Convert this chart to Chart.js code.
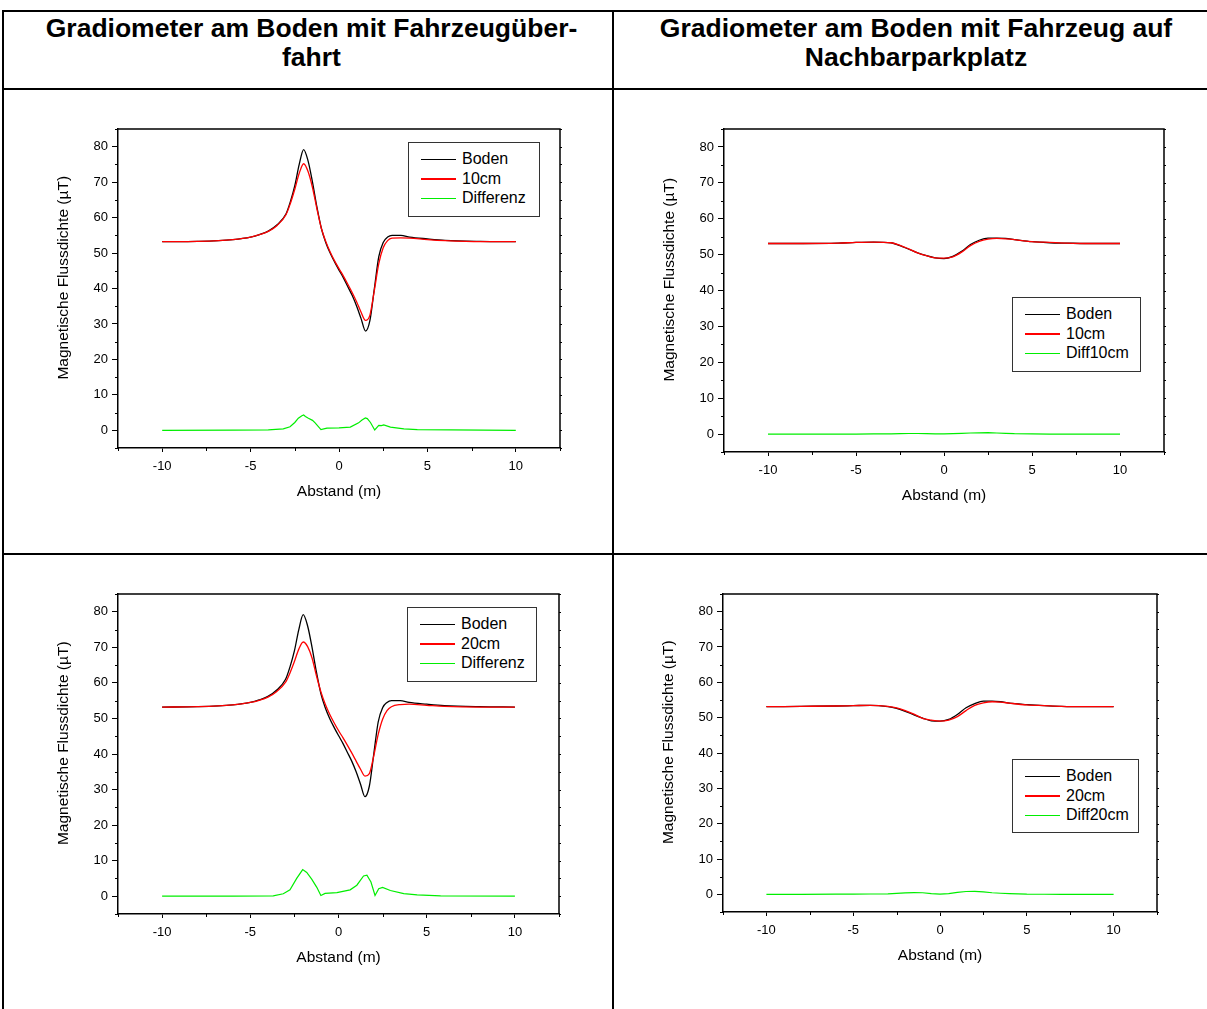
<!DOCTYPE html>
<html lang="de">
<head>
  <meta charset="UTF-8">
  <title>Gradiometer am Boden</title>
  <style>
    body {
      margin: 0;
      background: #fff;
      font-family: "Liberation Sans", Arial, sans-serif;
      color: #000;
    }
    .page {
      position: relative;
      width: 1207px;
      height: 1009px;
      overflow: hidden;
    }
    .rule {
      position: absolute;
      background: #000;
    }
    .head {
      position: absolute;
      top: 14px;
      text-align: center;
      font-weight: bold;
      font-size: 26.5px;
      line-height: 29px;
    }
    canvas {
      position: absolute;
    }
    .legend {
      position: absolute;
      box-sizing: border-box;
      border: 1.5px solid #333;
      padding-top: 6.5px;
      font-size: 16px;
      background: #fff;
    }
    .legend .row {
      height: 19.5px;
      display: flex;
      align-items: center;
    }
    .legend .sw {
      display: block;
      margin-left: 12px;
      margin-right: 6px;
      width: 35px;
      height: 1.5px;
    }
  </style>
</head>
<body>
  <div class="page">
    <div class="rule" style="left:2px; top:10px; width:1210px; height:2px;"></div>
    <div class="rule" style="left:2px; top:10px; width:2px; height:1000px;"></div>
    <div class="rule" style="left:612px; top:10px; width:2px; height:1000px;"></div>
    <div class="rule" style="left:2px; top:88px; width:1210px; height:2px;"></div>
    <div class="rule" style="left:2px; top:553px; width:1210px; height:2px;"></div>

    <div class="head" style="left:8px; width:607px;">Gradiometer am Boden mit Fahrzeugüber-<br>fahrt</div>
    <div class="head" style="left:614px; width:604px;">Gradiometer am Boden mit Fahrzeug auf<br>Nachbarparkplatz</div>

    <canvas id="c1" width="522" height="391" style="left:50px; top:117px;"></canvas>
    <canvas id="c2" width="520" height="395" style="left:656px; top:117px;"></canvas>
    <canvas id="c3" width="521" height="392" style="left:50px; top:582px;"></canvas>
    <canvas id="c4" width="514" height="390" style="left:655px; top:582px;"></canvas>
  </div>

  <script src="https://cdn.jsdelivr.net/npm/chart.js"></script>
  <script>
    // Überfahrt (left column)
    const xUeber = [-10, -8, -6, -5, -4.5, -4, -3.5, -3, -2.75, -2.5, -2.25, -2, -1.75, -1.5, -1.25, -1, -0.75, -0.5, -0.25, 0,
                    0.25, 0.5, 0.75, 1, 1.25, 1.5, 1.75, 2, 2.25, 2.5, 2.75, 3, 3.5, 4, 5, 6, 8, 10];
    const bodenUeber = [53.2, 53.3, 53.8, 54.5, 55.2, 56.2, 58.0, 61.0, 64.5, 69.0, 75.0, 79.2, 76.0, 70.0, 63.0, 57.0, 53.0, 50.0, 47.5, 45.2,
                        43.0, 40.5, 38.0, 35.0, 31.5, 28.0, 31.0, 40.0, 49.0, 53.0, 54.5, 55.0, 55.0, 54.5, 54.0, 53.6, 53.3, 53.2];
    const cm10Ueber = [53.2, 53.3, 53.8, 54.5, 55.2, 56.1, 57.8, 60.8, 64.0, 68.0, 72.5, 75.2, 73.0, 68.5, 62.5, 57.0, 53.3, 50.3, 47.8, 45.6,
                       43.5, 41.2, 38.8, 36.2, 33.3, 31.0, 32.5, 39.5, 47.0, 51.5, 53.5, 54.2, 54.3, 54.2, 53.8, 53.5, 53.2, 53.2];
    const cm20Ueber = [53.2, 53.3, 53.8, 54.5, 55.1, 56.0, 57.6, 60.2, 62.8, 66.0, 69.5, 71.5, 70.2, 67.0, 62.0, 57.5, 54.0, 51.2, 48.8, 46.6,
                       44.6, 42.5, 40.3, 38.0, 35.7, 33.8, 34.5, 39.5, 45.5, 49.8, 52.2, 53.3, 53.9, 54.0, 53.7, 53.4, 53.2, 53.2];
    const xDiff10 = [-10, -6, -4, -3.15, -2.77, -2.5, -2.3, -2.1, -2.0, -1.9, -1.73, -1.5, -1.35, -1.02, -0.68, 0, 0.64, 1.11, 1.3, 1.49,
                     1.6, 1.78, 2.02, 2.25, 2.4, 2.53, 2.91, 3.67, 4.43, 6.32, 10];
    const diff10Ueber = [0, 0.02, 0.1, 0.4, 1.0, 2.2, 3.4, 4.1, 4.3, 3.9, 3.4, 2.8, 2.1, 0.2, 0.6, 0.7, 0.9, 2.1, 2.9, 3.5,
                         3.3, 2.2, 0.1, 1.4, 1.3, 1.5, 0.9, 0.4, 0.2, 0.1, 0];
    const xDiff20 = [-10, -6, -3.7, -3.13, -2.75, -2.37, -2.03, -1.8, -1.52, -1.23, -1.0, -0.76, -0.09, 0.66, 1.04, 1.42, 1.61, 1.84,
                     2.07, 2.28, 2.5, 2.94, 3.7, 4.46, 5.79, 10];
    const diff20Ueber = [0, 0.02, 0.1, 0.7, 1.8, 5.0, 7.5, 6.7, 4.8, 2.5, 0.2, 0.8, 1.0, 1.8, 3.1, 5.7, 5.9, 4.0,
                         0.2, 2.1, 2.5, 1.6, 0.75, 0.4, 0.1, 0];

    // Nachbarparkplatz (right column)
    const xNachbar = [-10, -8, -6, -5, -4, -3, -2.5, -2, -1.5, -1, -0.5, 0, 0.5, 1, 1.5, 2, 2.5, 3, 3.5, 4, 5, 6, 7, 8, 10];
    const bodenN10 = [53.1, 53.1, 53.2, 53.4, 53.5, 53.3, 52.5, 51.5, 50.5, 49.7, 49.1, 48.9, 49.5, 50.9, 52.8, 54.0, 54.6, 54.6, 54.5,
                      54.2, 53.6, 53.3, 53.2, 53.1, 53.1];
    const cm10N = [53.1, 53.1, 53.2, 53.4, 53.5, 53.3, 52.6, 51.6, 50.5, 49.7, 49.1, 49.0, 49.4, 50.7, 52.5, 53.7, 54.3, 54.5, 54.4,
                   54.2, 53.6, 53.4, 53.2, 53.1, 53.1];
    const diff10N = [0, 0, 0, 0, 0.05, 0.05, 0.1, 0.15, 0.15, 0.1, 0.05, 0.05, 0.1, 0.2, 0.3, 0.35, 0.4, 0.3, 0.2,
                     0.1, 0.05, 0, 0, 0, 0];
    const bodenN20 = [53.1, 53.2, 53.3, 53.4, 53.5, 53.1, 52.6, 51.8, 50.8, 49.9, 49.1, 49.0, 49.5, 50.9, 52.8, 54.0, 54.7, 54.7, 54.5,
                      54.1, 53.7, 53.4, 53.2, 53.1, 53.1];
    const cm20N = [53.1, 53.2, 53.3, 53.4, 53.5, 53.2, 52.8, 52.0, 51.0, 49.8, 49.3, 49.0, 49.3, 50.3, 52.0, 53.5, 54.2, 54.5, 54.4,
                   54.1, 53.6, 53.4, 53.2, 53.1, 53.1];
    const diff20N = [0, 0, 0.05, 0.05, 0.1, 0.15, 0.25, 0.4, 0.5, 0.45, 0.2, 0.05, 0.2, 0.55, 0.8, 0.85, 0.7, 0.45, 0.3,
                     0.2, 0.05, 0.02, 0, 0, 0];

    // axes
    const xMajor = [-10, -5, 0, 5, 10];
    const xMinor = [-12.5, -7.5, -2.5, 2.5, 7.5, 12.5];
    const yMajor = [0, 10, 20, 30, 40, 50, 60, 70, 80];
    const yMinor = [-5, 5, 15, 25, 35, 45, 55, 65, 75, 85];
    const xTitle = "Abstand (m)";
    const yTitle = "     Magnetische Flussdichte (µT)";
    const colors = ["#000000", "#ff0000", "#00ee00"];
    const FONT = "'Liberation Sans', Arial, sans-serif";

    function pts(xs, ys) {
      return xs.map((x, i) => ({ x: x, y: ys[i] }));
    }

    // box round the plot, minor ticks, right-hand ticks
    const framePlugin = {
      id: "frame",
      afterDraw(chart) {
        const { ctx, chartArea: a, scales } = chart;
        const x = scales.x, y = scales.y;
        ctx.save();
        ctx.strokeStyle = "#000";
        ctx.lineWidth = 1.5;
        ctx.beginPath();
        ctx.moveTo(a.left, a.top);
        ctx.lineTo(a.right, a.top);
        ctx.lineTo(a.right, a.bottom);
        ctx.stroke();
        ctx.lineWidth = 1;
        ctx.beginPath();
        yMinor.forEach(v => {
          const p = Math.round(y.getPixelForValue(v)) + 0.5;
          ctx.moveTo(a.left - 3, p);
          ctx.lineTo(a.left, p);
        });
        yMinor.concat(yMajor).forEach(v => {
          const p = Math.round(y.getPixelForValue(v)) + 0.5;
          ctx.moveTo(a.right, p);
          ctx.lineTo(a.right + 2, p);
        });
        xMinor.forEach(v => {
          const p = Math.round(x.getPixelForValue(v)) + 0.5;
          ctx.moveTo(p, a.bottom);
          ctx.lineTo(p, a.bottom + 3);
        });
        ctx.stroke();
        ctx.restore();
      }
    };

    function makeChart(id, series, legendBox) {
      const datasets = series.map((s, i) => ({
        label: s.label,
        data: pts(s.x, s.y),
        borderColor: colors[i],
        borderWidth: i === 2 ? 1.2 : 1.3,
        pointRadius: 0,
        fill: false,
        tension: i === 2 ? 0 : undefined,
        cubicInterpolationMode: i === 2 ? "default" : "monotone",
        order: 2 - i
      }));

      new Chart(document.getElementById(id), {
        type: "line",
        data: { datasets: datasets },
        plugins: [framePlugin],
        options: {
          responsive: false,
          animation: false,
          devicePixelRatio: 1,
          layout: { padding: { top: 12, right: 12, left: 0, bottom: 0 }, autoPadding: false },
          plugins: { legend: { display: false }, tooltip: { enabled: false } },
          scales: {
            x: {
              type: "linear",
              min: -12.5,
              max: 12.5,
              afterBuildTicks: s => { s.ticks = xMajor.map(v => ({ value: v })); },
              afterFit: s => { s.height = 60; },
              grid: { drawOnChartArea: false, drawTicks: true, tickLength: 4, tickColor: "#000", tickWidth: 1 },
              border: { display: true, color: "#000", width: 1.5 },
              ticks: { color: "#000", font: { size: 13, family: FONT }, padding: 7, maxRotation: 0, autoSkip: false },
              title: { display: true, text: xTitle, color: "#000", font: { size: 15.5, family: FONT }, padding: { top: 0, bottom: 7 } }
            },
            y: {
              type: "linear",
              min: -5,
              max: 85,
              afterBuildTicks: s => { s.ticks = yMajor.map(v => ({ value: v })); },
              afterFit: s => { s.width = 68; },
              grid: { drawOnChartArea: false, drawTicks: true, tickLength: 6, tickColor: "#000", tickWidth: 1 },
              border: { display: true, color: "#000", width: 1.5 },
              ticks: { color: "#000", font: { size: 13, family: FONT }, padding: 4, autoSkip: false },
              title: { display: true, text: yTitle, color: "#000", font: { size: 15.5, family: FONT }, padding: { top: 4, bottom: 0 } }
            }
          }
        }
      });

      // legend box, same text and colours as the datasets
      const lg = document.createElement("div");
      lg.className = "legend";
      lg.style.left = legendBox[0] + "px";
      lg.style.top = legendBox[1] + "px";
      lg.style.width = legendBox[2] + "px";
      lg.style.height = legendBox[3] + "px";
      datasets.forEach(d => {
        const row = document.createElement("div");
        row.className = "row";
        const sw = document.createElement("span");
        sw.className = "sw";
        sw.style.background = d.borderColor;
        const tx = document.createElement("span");
        tx.textContent = d.label;
        row.appendChild(sw);
        row.appendChild(tx);
        lg.appendChild(row);
      });
      document.querySelector(".page").appendChild(lg);
    }

    makeChart("c1", [
      { label: "Boden", x: xUeber, y: bodenUeber },
      { label: "10cm", x: xUeber, y: cm10Ueber },
      { label: "Differenz", x: xDiff10, y: diff10Ueber }
    ], [408, 142, 132, 75]);

    makeChart("c2", [
      { label: "Boden", x: xNachbar, y: bodenN10 },
      { label: "10cm", x: xNachbar, y: cm10N },
      { label: "Diff10cm", x: xNachbar, y: diff10N }
    ], [1012, 297, 129, 75]);

    makeChart("c3", [
      { label: "Boden", x: xUeber, y: bodenUeber },
      { label: "20cm", x: xUeber, y: cm20Ueber },
      { label: "Differenz", x: xDiff20, y: diff20Ueber }
    ], [407, 607, 130, 75]);

    makeChart("c4", [
      { label: "Boden", x: xNachbar, y: bodenN20 },
      { label: "20cm", x: xNachbar, y: cm20N },
      { label: "Diff20cm", x: xNachbar, y: diff20N }
    ], [1012, 759, 127, 74]);
  </script>
</body>
</html>
